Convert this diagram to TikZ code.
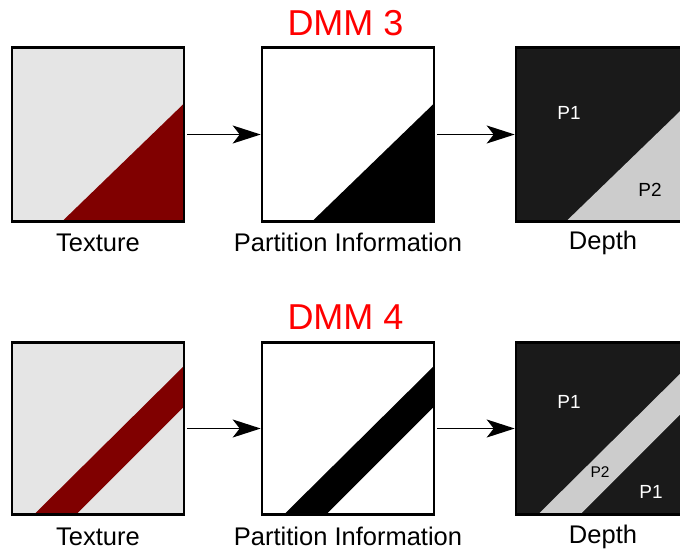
\documentclass[tikz,border=0pt]{standalone}
\usepackage{fontspec}
\setmainfont{Liberation Sans}
\usetikzlibrary{arrows.meta,calc}
\definecolor{texbg}{HTML}{E5E5E5}
\definecolor{texred}{HTML}{800000}
\definecolor{depthdark}{HTML}{1A1A1A}
\definecolor{depthlight}{HTML}{CCCCCC}
\definecolor{titlered}{HTML}{FF0000}
\begin{document}
\begin{tikzpicture}[x=1pt,y=-1pt,
  boxa/.style={rectangle, minimum width=172pt, minimum height=174pt, inner sep=0pt, outer sep=0pt},
  boxb/.style={rectangle, minimum width=172pt, minimum height=172pt, inner sep=0pt, outer sep=0pt},
  frame/.style={draw=black, line width=2.6pt},
  arr/.style={line width=1.5pt, -{Stealth[length=28pt,width=18pt,inset=7pt]}},
  lab/.style={font=\fontsize{25.5}{30}\selectfont, inner sep=0pt},
  plab/.style={font=\fontsize{19}{22}\selectfont, text=white, inner sep=0pt},
  psmall/.style={font=\fontsize{15.5}{18}\selectfont, text=black, inner sep=0pt},
  ttl/.style={font=\fontsize{36}{42}\selectfont, text=titlered, inner sep=0pt}]
\useasboundingbox (0,0) rectangle (680,551);
\clip (0,0) rectangle (680,551);
\fill[white] (0,0) rectangle (680,551);

% ---------- Row 1 (DMM 3) ----------
\node[ttl, anchor=base] (dmm3) at (345.5,36) {DMM 3};
\node[boxa] (t3) at (98,134.5) {};
\node[boxa] (p3) at (348,134.5) {};
\node[boxa] (d3) at (602,134.5) {};

\fill[texbg] (t3.north west) rectangle (t3.south east);
\begin{scope}[shift={(t3.north west)}]
  \fill[texred] (50,174) -- (172,56) -- (172,174) -- cycle;
\end{scope}
\fill[white] (p3.north west) rectangle (p3.south east);
\begin{scope}[shift={(p3.north west)}]
  \fill[black] (50,174) -- (172,56) -- (172,174) -- cycle;
\end{scope}
\fill[depthdark] (d3.north west) rectangle (d3.south east);
\begin{scope}[shift={(d3.north west)}]
  \fill[depthlight] (50,174) -- (172,56) -- (172,174) -- cycle;
\end{scope}
\draw[frame] (t3.north west) rectangle (t3.south east);
\draw[frame] (p3.north west) rectangle (p3.south east);
\draw[frame] (d3.north west) rectangle (d3.south east);

\node[plab] (d3p1) at (569,113) {P1};
\node[plab, text=black] (d3p2) at (650,190) {P2};

\draw[arr] ([xshift=3pt]t3.east) -- ([xshift=-1.3pt]p3.west);
\draw[arr] ([xshift=3pt]p3.east) -- ([xshift=-1.3pt]d3.west);

\node[lab, anchor=base] (t3l) at (98,251) {Texture};
\node[lab, anchor=base] (p3l) at (348,251) {Partition Information};
\node[lab, anchor=base] (d3l) at (603,249) {Depth};

% ---------- Row 2 (DMM 4) ----------
\node[ttl, anchor=base] (dmm4) at (345.5,329) {DMM 4};
\node[boxb] (t4) at (98,428.5) {};
\node[boxb] (p4) at (348,428.5) {};
\node[boxb] (d4) at (602,428.5) {};

\fill[texbg] (t4.north west) rectangle (t4.south east);
\begin{scope}[shift={(t4.north west)}]
  \fill[texred] (22,172) -- (64,172) -- (172,64) -- (172,23.5) -- cycle;
\end{scope}
\fill[white] (p4.north west) rectangle (p4.south east);
\begin{scope}[shift={(p4.north west)}]
  \fill[black] (22,172) -- (64,172) -- (172,64) -- (172,23.5) -- cycle;
\end{scope}
\fill[depthdark] (d4.north west) rectangle (d4.south east);
\begin{scope}[shift={(d4.north west)}]
  \fill[depthlight] (22,172) -- (64,172) -- (172,64) -- (172,23.5) -- cycle;
\end{scope}
\draw[frame] (t4.north west) rectangle (t4.south east);
\draw[frame] (p4.north west) rectangle (p4.south east);
\draw[frame] (d4.north west) rectangle (d4.south east);

\node[plab] (d4p1a) at (569,402) {P1};
\node[psmall] (d4p2) at (600,472.5) {P2};
\node[plab] (d4p1b) at (651,491.5) {P1};

\draw[arr] ([xshift=3pt]t4.east) -- ([xshift=-1.3pt]p4.west);
\draw[arr] ([xshift=3pt]p4.east) -- ([xshift=-1.3pt]d4.west);

\node[lab, anchor=base] (t4l) at (98,545.5) {Texture};
\node[lab, anchor=base] (p4l) at (348,545.5) {Partition Information};
\node[lab, anchor=base] (d4l) at (603,543.5) {Depth};
\end{tikzpicture}
\end{document}
